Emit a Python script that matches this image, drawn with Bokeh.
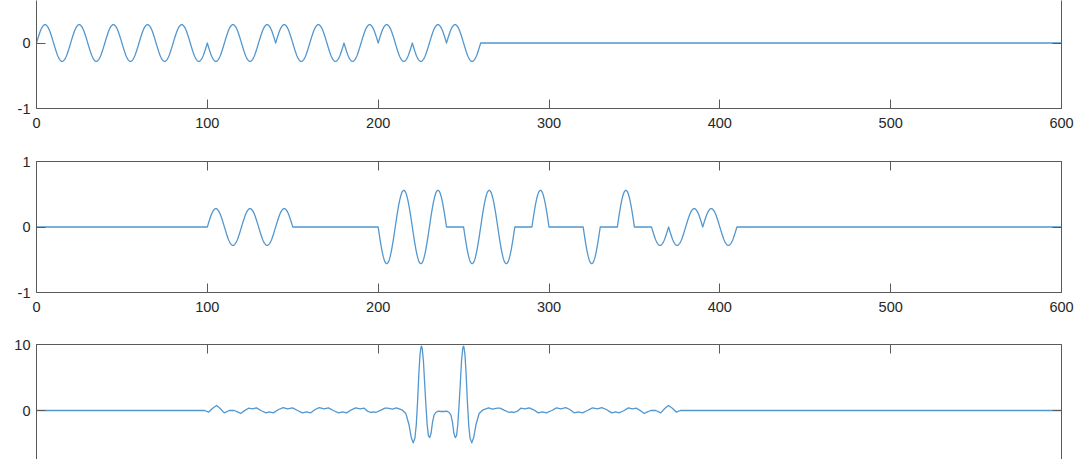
import numpy as np
from bokeh.plotting import figure
from bokeh.models import LinearAxis, FixedTicker, Range1d
from bokeh.layouts import column
from bokeh.embed import file_html
from bokeh.resources import INLINE

# ---------------- data ----------------
LOBE_WIDTH = 10  # each half-cycle lobe spans 10 x-units

# top panel: peak value of every half-cycle lobe from 0 to 600
top_lobes = [0.28, -0.28, 0.28, -0.28, 0.28, -0.28, 0.28, -0.28, 0.28, -0.28,
             -0.28, 0.28, -0.28, 0.28, 0.28, -0.28, 0.28, -0.28, -0.28, 0.28,
             0.28, -0.28, -0.28, 0.28, 0.28, -0.28,
             0, 0, 0, 0, 0, 0, 0, 0, 0, 0, 0, 0, 0, 0, 0, 0, 0, 0, 0, 0, 0,
             0, 0, 0, 0, 0, 0, 0, 0, 0, 0, 0, 0, 0]

# middle panel: peak value of every half-cycle lobe from 0 to 600
mid_lobes = [0, 0, 0, 0, 0, 0, 0, 0, 0, 0,
             0.28, -0.28, 0.28, -0.28, 0.28,
             0, 0, 0, 0, 0,
             -0.56, 0.56, -0.56, 0.56, 0,
             -0.56, 0.56, -0.56, 0, 0.56,
             0, 0, -0.56, 0, 0.56,
             0, -0.28, -0.28, 0.28, 0.28,
             -0.28, 0, 0, 0, 0, 0, 0, 0, 0, 0,
             0, 0, 0, 0, 0, 0, 0, 0, 0, 0]

# bottom panel: sampled points of the curve
bot_x = [0, 98.5, 100.7, 103.1, 105.4, 107.4, 109.9, 112.8, 115.7, 117.7,
         119.6, 121.6, 124.1, 126.5, 128.8, 131.3, 134.3, 136.2, 138.6, 141.7,
         144.4, 146.9, 149.9, 152.8, 155.7, 158.1, 160.6, 163.1, 165.5, 168.4,
         170.9, 173.7, 176.8, 179.1, 181.5, 184.6, 186.9, 189.5, 191.8, 193.8,
         195.7, 197.2, 198.6, 201.6, 204.0, 205.5, 208.4, 210.7, 214.2, 216.2,
         218.1, 219.3, 220.5, 221.5, 222.3, 223.1, 223.8, 224.5, 225.1, 225.4,
         225.8, 226.5, 227.2, 227.9, 228.7, 229.4, 230.2, 231.0, 231.8, 232.7,
         233.7, 235.2, 236.7, 238.6, 240.1, 241.6, 242.6, 243.5, 244.3, 245.1,
         245.9, 246.6, 247.4, 248.1, 248.8, 249.5, 249.9, 250.2, 250.8, 251.5,
         252.2, 253.0, 253.8, 254.8, 256.0, 257.2, 259.1, 261.1, 264.6, 266.9,
         269.8, 271.3, 273.7, 276.7, 278.1, 279.6, 281.5, 283.5, 285.8, 288.4,
         290.7, 293.8, 296.2, 298.5, 301.6, 304.4, 306.9, 309.8, 312.2, 314.7,
         317.2, 319.6, 322.5, 325.4, 328.4, 330.9, 333.6, 336.7, 339.1, 341.0,
         344.0, 346.5, 348.8, 351.2, 353.7, 355.7, 357.6, 359.6, 362.5, 365.4,
         367.9, 369.9, 372.2, 374.6, 376.8, 600]
bot_y = [0, 0, -0.25, 0.35, 0.76, 0.35, -0.35, 0.0, 0.0, -0.2,
         -0.45, -0.05, 0.35, 0.25, 0.4, 0.0, -0.35, -0.2, -0.35, 0.15,
         0.45, 0.25, 0.4, 0.0, -0.35, -0.2, -0.35, 0.15, 0.45, 0.25,
         0.4, 0.0, -0.35, -0.2, -0.35, 0.15, 0.4, 0.25, 0.35, -0.1,
         -0.3, -0.2, -0.3, 0.05, 0.35, 0.35, 0.2, 0.4, 0.05, -0.45,
         -2.2, -4.0, -4.9, -4.2, -2.2, 1.5, 5.5, 8.5, 9.6, 9.75,
         9.4, 7.5, 4.2, 1.0, -2.2, -3.8, -4.1, -3.4, -1.8, -0.7,
         -0.3, -0.1, -0.15, -0.15, -0.1, -0.3, -0.7, -1.8, -3.4, -4.1,
         -3.8, -2.2, 1.0, 4.2, 7.5, 9.4, 9.75, 9.6, 8.5, 5.5,
         1.5, -2.2, -4.2, -4.9, -4.0, -2.2, -0.45, 0.05, 0.4, 0.2,
         0.35, 0.35, 0.05, -0.3, -0.2, -0.3, -0.1, 0.35, 0.25, 0.4,
         0.15, -0.35, -0.2, -0.35, 0.0, 0.4, 0.25, 0.45, 0.15, -0.35,
         -0.2, -0.35, 0.0, 0.4, 0.25, 0.45, 0.15, -0.35, -0.2, -0.35,
         0.0, 0.4, 0.25, 0.35, -0.05, -0.45, -0.2, 0.0, 0.0, -0.35,
         0.35, 0.76, 0.35, -0.25, 0, 0]

x_ticks = [0, 100, 200, 300, 400, 500, 600]
top_yticks = [-1, 0, 1]
mid_yticks = [-1, 0, 1]
bot_yticks = [-10, 0, 10]

# ---------------- styling ----------------
LINE_COLOR = "#5297cf"
AXIS_COLOR = "#5a5a5a"
TEXT_COLOR = "#262626"
FONT = "Liberation Sans"
FONT_SIZE = "14.5px"
FIG_W = 1078


def lobe_curve(lobes, width=LOBE_WIDTH, n=40):
    xs, ys = [], []
    t = np.linspace(0, 1, n, endpoint=False)
    for i, v in enumerate(lobes):
        xs.extend(i * width + t * width)
        ys.extend(v * np.sin(np.pi * t))
    xs.append(len(lobes) * width)
    ys.append(0.0)
    return xs, ys


def style_axis(ax, ticks, show_labels, standoff):
    ax.ticker = FixedTicker(ticks=ticks)
    ax.axis_line_color = AXIS_COLOR
    ax.axis_line_width = 1
    ax.major_tick_line_color = AXIS_COLOR
    ax.major_tick_in = 9
    ax.major_tick_out = 0
    ax.minor_tick_line_color = None
    ax.major_label_text_font = FONT
    ax.major_label_text_font_size = FONT_SIZE
    ax.major_label_text_color = TEXT_COLOR
    if show_labels:
        ax.major_label_standoff = standoff
        ax.major_label_overrides = {t: str(t) for t in ticks if t < 0}
    else:
        ax.major_label_standoff = 0
        ax.major_label_overrides = {t: "" for t in ticks}


def make_fig(height, yr, border_top, border_bottom, sides, yticks):
    p = figure(width=FIG_W, height=height, output_backend="svg", toolbar_location=None,
               x_range=Range1d(0, 600), y_range=Range1d(*yr),
               x_axis_location=None, y_axis_location=None,
               min_border_left=36, min_border_right=17,
               min_border_top=border_top, min_border_bottom=border_bottom)
    p.grid.visible = False
    p.outline_line_color = None
    p.background_fill_color = "white"
    p.border_fill_color = "white"
    la = LinearAxis()
    style_axis(la, yticks, True, 6)
    p.add_layout(la, "left")
    ra = LinearAxis()
    style_axis(ra, yticks, False, 0)
    p.add_layout(ra, "right")
    if "below" in sides:
        ba = LinearAxis()
        style_axis(ba, x_ticks, True, 9)
        p.add_layout(ba, "below")
    if "above" in sides:
        ta = LinearAxis()
        style_axis(ta, x_ticks, False, 0)
        p.add_layout(ta, "above")
    return p


p1 = make_fig(134, (-1, 0.649), 0, 26, ["below"], top_yticks)
x1, y1 = lobe_curve(top_lobes)
p1.line(x1, y1, line_color=LINE_COLOR, line_width=1.3, line_join="round")

p2 = make_fig(184, (-1, 1), 27, 26, ["below", "above"], mid_yticks)
x2, y2 = lobe_curve(mid_lobes)
p2.line(x2, y2, line_color=LINE_COLOR, line_width=1.3, line_join="round")

p3 = make_fig(141, (-7.42, 10), 26, 0, ["above"], bot_yticks)
p3.line(bot_x, bot_y, line_color=LINE_COLOR, line_width=1.3, line_join="round")

layout = column(p1, p2, p3, spacing=0)

with open("out.html", "w") as f:
    f.write(file_html(layout, INLINE))
